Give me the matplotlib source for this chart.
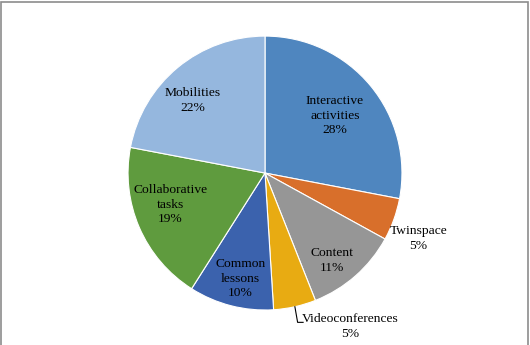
import matplotlib
matplotlib.use("Agg")
import matplotlib.pyplot as plt
from matplotlib.patches import Rectangle
import numpy as np

plt.rcParams['font.family'] = ['Liberation Serif', 'DejaVu Serif']

# data
categories = ['Interactive\nactivities', 'Twinspace', 'Content', 'Videoconferences',
              'Common\nlessons', 'Collaborative\ntasks', 'Mobilities']
shares = [28, 5, 11, 5, 10, 19, 22]
colors = ['#4f86bf', '#d86f2b', '#969696', '#e8ab12', '#3b62ad', '#5f9b3e', '#95b7de']

# where the labels sit (data coords, pie radius = 1)
label_pos = [(0.51, 0.42), (1.12, -0.48), (0.49, -0.64), (0.62, -1.12),
             (-0.18, -0.77), (-0.69, -0.23), (-0.53, 0.53)]

fig = plt.figure(figsize=(5.3, 3.45), dpi=100)
ax = fig.add_axes([0.2415, 0.1014, 0.517, 0.794])

wedges, _ = ax.pie(shares, colors=colors, startangle=90, counterclock=False,
                   radius=1, wedgeprops=dict(edgecolor='white', linewidth=0.8))

total = sum(shares)
for i, (lab, v) in enumerate(zip(categories, shares)):
    x, y = label_pos[i]
    ax.text(x, y, f"{lab}\n{round(100 * v / total)}%", ha='center', va='center',
            fontsize=9.7, color='black', linespacing=1.3)

# leader line for the small outside slice
w = wedges[3]
mid = np.deg2rad((w.theta1 + w.theta2) / 2)
x0, y0 = np.cos(mid), np.sin(mid)
ax.plot([x0, x0 + 0.02, x0 + 0.06], [y0, -1.09, -1.09], color='black', lw=0.8,
        clip_on=False)

ax.set_xlim(-1, 1)
ax.set_ylim(-1, 1)
ax.set_aspect('equal')
ax.axis('off')

# chart border (bottom edge is cut off in the original)
fig.patches.append(Rectangle((0.5 / 530, -0.05), 527.5 / 530, 1.05 - 1.5 / 345,
                             transform=fig.transFigure, fill=False,
                             edgecolor='#8c8c8c', lw=1.2))

fig.savefig('out.png', dpi=100)
